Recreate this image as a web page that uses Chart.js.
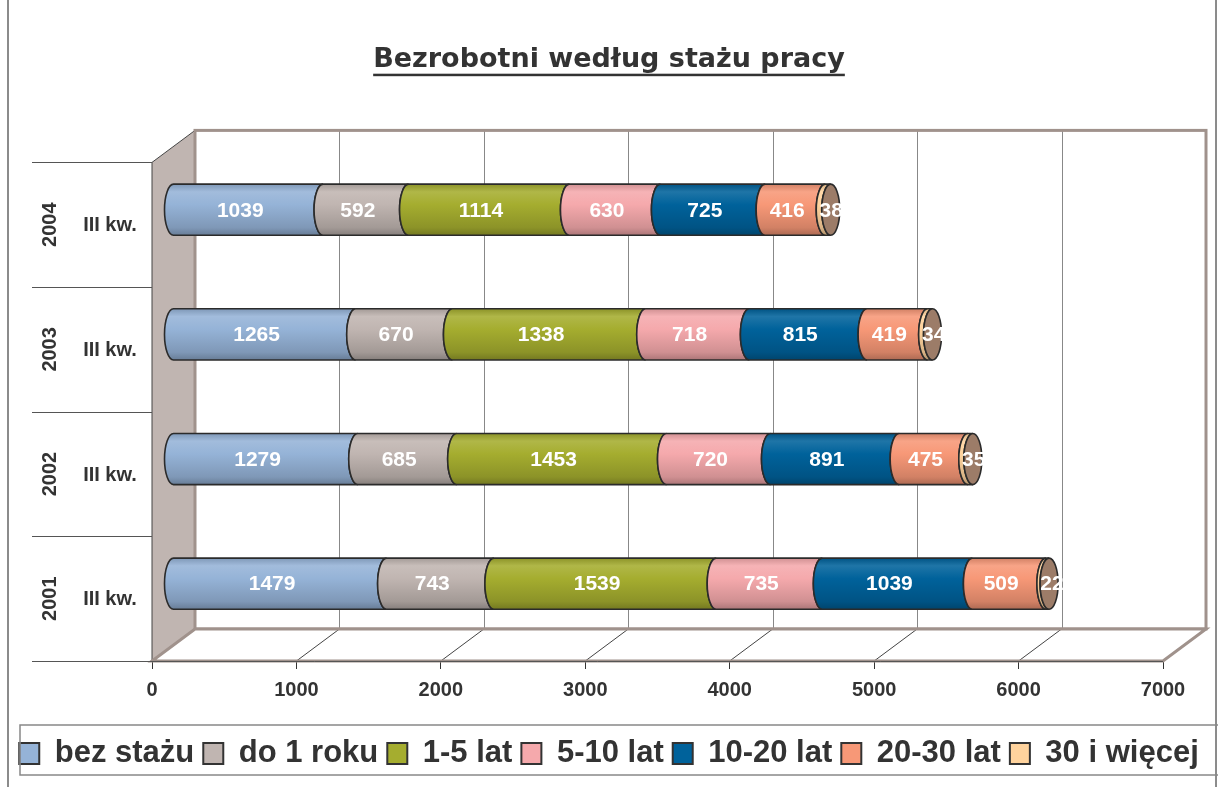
<!DOCTYPE html>
<html>
<head>
<meta charset="utf-8">
<script src="https://cdn.jsdelivr.net/npm/chart.js@4.4.1/dist/chart.umd.min.js"></script>
<style>
  html, body { margin: 0; padding: 0; background: #fff; }
</style>
</head>
<body>
<canvas id="chart" width="1218" height="787"></canvas>
<script>
// categories (bottom to top)
const years = ['2001', '2002', '2003', '2004'];
const quarter = 'III kw.';

// series values, one per year
const bezStazu = [1479, 1279, 1265, 1039];
const do1Roku = [743, 685, 670, 592];
const lat1do5 = [1539, 1453, 1338, 1114];
const lat5do10 = [735, 720, 718, 630];
const lat10do20 = [1039, 891, 815, 725];
const lat20do30 = [509, 475, 419, 416];
const lat30plus = [22, 35, 34, 38];

const seriesNames = ['bez stażu', 'do 1 roku', '1-5 lat', '5-10 lat', '10-20 lat', '20-30 lat', '30 i więcej'];
const seriesValues = [bezStazu, do1Roku, lat1do5, lat5do10, lat10do20, lat20do30, lat30plus];
const seriesColors = ['#95B3D7', '#C0B5B1', '#A5AD2F', '#F5A9AC', '#00629B', '#F79877', '#FFD39D'];

const xTicks = [0, 1000, 2000, 3000, 4000, 5000, 6000, 7000];

const TITLE = 'Bezrobotni według stażu pracy';
const FONT = 'Liberation Sans, Arial, sans-serif';

// 3d offsets: bars sit half way into the depth, the wall at full depth
const BX = 43, BY = -32;
const DX = 21, DY = -15;
const RX = 9;

function mix(hex, toWhite, t) {
  const n = parseInt(hex.slice(1), 16);
  const r = n >> 16, g = (n >> 8) & 255, b = n & 255;
  const to = toWhite ? 255 : 0;
  const f = v => Math.round(v + (to - v) * t);
  return `rgb(${f(r)},${f(g)},${f(b)})`;
}

function segmentPath(ctx, xs, xe, cy, ry) {
  ctx.beginPath();
  ctx.moveTo(xs, cy - ry);
  ctx.lineTo(xe, cy - ry);
  ctx.ellipse(xe, cy, RX, ry, 0, -Math.PI / 2, Math.PI / 2, true);
  ctx.lineTo(xs, cy + ry);
  ctx.ellipse(xs, cy, RX, ry, 0, Math.PI / 2, Math.PI * 1.5, false);
  ctx.closePath();
}

// walls, floor and cylinders
const depth3d = {
  id: 'depth3d',
  beforeDatasetsDraw(chart) {
    const { ctx, chartArea: a, scales: { x } } = chart;
    ctx.save();

    // side wall
    ctx.beginPath();
    ctx.moveTo(a.left, a.bottom);
    ctx.lineTo(a.left, a.top);
    ctx.lineTo(a.left + BX, a.top + BY);
    ctx.lineTo(a.left + BX, a.bottom + BY);
    ctx.closePath();
    ctx.fillStyle = '#C0B5B1';
    ctx.fill();
    ctx.strokeStyle = '#444';
    ctx.lineWidth = 1;
    ctx.stroke();

    // back wall
    ctx.fillStyle = '#fff';
    ctx.fillRect(a.left + BX, a.top + BY, a.right - a.left, a.bottom - a.top);
    ctx.strokeStyle = '#888';
    ctx.lineWidth = 1;
    xTicks.forEach(v => {
      const px = Math.round(x.getPixelForValue(v) + BX) + 0.5;
      ctx.beginPath();
      ctx.moveTo(px, a.top + BY);
      ctx.lineTo(px, a.bottom + BY);
      ctx.stroke();
    });
    ctx.strokeStyle = '#A0928C';
    ctx.lineWidth = 3;
    ctx.strokeRect(a.left + BX, a.top + BY, a.right - a.left, a.bottom - a.top);

    // floor
    ctx.beginPath();
    ctx.moveTo(a.left, a.bottom);
    ctx.lineTo(a.right, a.bottom);
    ctx.lineTo(a.right + BX, a.bottom + BY);
    ctx.lineTo(a.left + BX, a.bottom + BY);
    ctx.closePath();
    ctx.fillStyle = '#fff';
    ctx.fill();
    ctx.strokeStyle = '#444';
    ctx.lineWidth = 1;
    xTicks.forEach(v => {
      const px = x.getPixelForValue(v);
      ctx.beginPath();
      ctx.moveTo(px, a.bottom);
      ctx.lineTo(px + BX, a.bottom + BY);
      ctx.stroke();
    });
    ctx.beginPath();
    ctx.moveTo(a.left, a.bottom);
    ctx.lineTo(a.right, a.bottom);
    ctx.lineTo(a.right + BX, a.bottom + BY);
    ctx.lineTo(a.left + BX, a.bottom + BY);
    ctx.closePath();
    ctx.strokeStyle = '#A0928C';
    ctx.lineWidth = 3;
    ctx.stroke();
    ctx.beginPath();
    ctx.moveTo(a.left - 120, a.bottom + 0.5);
    ctx.lineTo(a.right, a.bottom + 0.5);
    ctx.strokeStyle = '#555';
    ctx.lineWidth = 1;
    ctx.stroke();

    // cylinders
    ctx.translate(DX, DY);
    const metas = chart.data.datasets.map((ds, i) => chart.getDatasetMeta(i));
    const labels = [];
    years.forEach((yr, i) => {
      let last = null;
      metas.forEach((meta, k) => {
        const bar = meta.data[i].getProps(['x', 'base', 'y', 'height'], true);
        const ry = bar.height / 2;
        const col = seriesColors[k];
        const g = ctx.createLinearGradient(0, bar.y - ry, 0, bar.y + ry);
        g.addColorStop(0, mix(col, false, 0.15));
        g.addColorStop(0.15, mix(col, true, 0.12));
        g.addColorStop(0.4, col);
        g.addColorStop(0.85, mix(col, false, 0.15));
        g.addColorStop(1, mix(col, false, 0.3));
        segmentPath(ctx, bar.base, bar.x, bar.y, ry);
        ctx.fillStyle = g;
        ctx.fill();
        ctx.strokeStyle = '#2b2b2b';
        ctx.lineWidth = 1.6;
        ctx.stroke();
        const lx = Math.max((bar.base + bar.x) / 2 - 8, bar.base + 6);
        labels.push([String(seriesValues[k][i]), lx, bar.y]);
        last = bar;
      });
      // end cap
      ctx.beginPath();
      ctx.ellipse(last.x, last.y, RX, last.height / 2, 0, 0, Math.PI * 2);
      ctx.fillStyle = '#9C7C68';
      ctx.fill();
      ctx.strokeStyle = '#2b2b2b';
      ctx.lineWidth = 1.6;
      ctx.stroke();
    });

    ctx.fillStyle = '#fff';
    ctx.font = `bold 21px ${FONT}`;
    ctx.textAlign = 'center';
    ctx.textBaseline = 'middle';
    labels.forEach(([t, lx, ly]) => ctx.fillText(t, lx, ly + 1));
    ctx.restore();
    return false;
  }
};

// frame, title underline, category labels, legend box
const decorations = {
  id: 'decorations',
  beforeDraw(chart) {
    const { ctx, width, height } = chart;
    ctx.save();
    ctx.fillStyle = '#fff';
    ctx.fillRect(0, 0, width, height);
    ctx.strokeStyle = '#666';
    ctx.lineWidth = 1.5;
    ctx.strokeRect(8, -5, 1208, height + 10);
    ctx.restore();
  },
  afterDraw(chart) {
    const { ctx, chartArea: a, scales: { y } } = chart;
    ctx.save();

    // title underline
    const t = chart.titleBlock;
    const tf = t.options.font;
    ctx.font = `bold ${tf.size}px ${tf.family}`;
    const tw = ctx.measureText(TITLE).width;
    const cx = (t.left + t.right) / 2;
    const cy = t.top + t.options.padding.top + tf.size * 1.2 / 2;
    ctx.fillStyle = '#333';
    ctx.fillRect(cx - tw / 2, cy + tf.size * 0.5, tw, 2.5);

    // category labels and separators
    const step = Math.abs(y.getPixelForValue(0) - y.getPixelForValue(1));
    ctx.strokeStyle = '#555';
    ctx.lineWidth = 1;
    years.forEach((yr, i) => {
      const yc = y.getPixelForValue(i);
      [yc - step / 2, yc + step / 2].forEach(yy => {
        ctx.beginPath();
        ctx.moveTo(32, Math.round(yy) + 0.5);
        ctx.lineTo(a.left, Math.round(yy) + 0.5);
        ctx.stroke();
      });
      ctx.fillStyle = '#333';
      ctx.font = `bold 20px ${FONT}`;
      ctx.textAlign = 'center';
      ctx.textBaseline = 'middle';
      ctx.fillText(quarter, 110, yc + 1);
      ctx.save();
      ctx.translate(50, yc);
      ctx.rotate(-Math.PI / 2);
      ctx.fillText(yr, 0, 0);
      ctx.restore();
    });

    // legend frame
    const l = chart.legend;
    ctx.strokeStyle = '#888';
    ctx.lineWidth = 1.5;
    ctx.strokeRect(20, l.top - 4, 1240, l.height);
    ctx.restore();
  }
};

const chart = new Chart(document.getElementById('chart'), {
  type: 'bar',
  data: {
    labels: years,
    datasets: seriesNames.map((name, k) => ({
      label: name,
      data: seriesValues[k],
      backgroundColor: seriesColors[k],
      borderColor: '#333',
      borderWidth: 2,
      barPercentage: 0.41,
      categoryPercentage: 1
    }))
  },
  options: {
    responsive: false,
    animation: false,
    indexAxis: 'y',
    layout: { padding: { left: 0, right: 0, top: 0, bottom: 8 } },
    plugins: {
      title: {
        display: true,
        text: TITLE,
        color: '#333',
        font: { family: 'DejaVu Sans', size: 27, weight: 'bold' },
        padding: { top: 44, bottom: 86 }
      },
      legend: {
        position: 'bottom',
        labels: {
          color: '#333',
          font: { family: FONT, size: 31, weight: 'bold' },
          boxWidth: 20,
          boxHeight: 21,
          padding: 9
        }
      },
      tooltip: { enabled: false }
    },
    scales: {
      x: {
        stacked: true,
        min: 0,
        max: 7000,
        ticks: {
          stepSize: 1000,
          color: '#333',
          font: { family: FONT, size: 20, weight: 'bold' },
          padding: 9,
          callback: v => String(v)
        },
        grid: { drawOnChartArea: false, tickLength: 8, color: '#333' },
        border: { display: false },
        afterFit: s => { s.height = 68; s.paddingRight = 55; }
      },
      y: {
        stacked: true,
        reverse: true,
        ticks: { display: false },
        grid: { display: false },
        border: { display: false },
        afterFit: s => { s.width = 152; }
      }
    }
  },
  plugins: [depth3d, decorations]
});
</script>
</body>
</html>
